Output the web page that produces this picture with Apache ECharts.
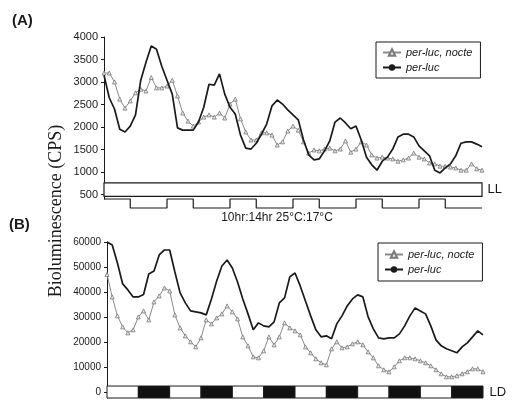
<!DOCTYPE html>
<html><head><meta charset="utf-8">
<script src="https://cdn.jsdelivr.net/npm/echarts@6/dist/echarts.min.js"></script>
<style>html,body{margin:0;padding:0;background:#fff}#c{width:512px;height:401px}</style>
</head><body><div id="c"></div>
<script>
// sample times (hours)
const hours = [0,2,4,6,8,10,12,14,16,18,20,22,24,26,28,30,32,34,36,38,40,42,44,46,48,50,52,54,56,58,60,62,64,66,68,70,72,74,76,78,80,82,84,86,88,90,92,94,96,98,100,102,104,106,108,110,112,114,116,118,120,122,124,126,128,130,132,134,136,138,140,142,144];
// Panel A (LL, temperature cycle)
const aNocte = [3200,3200,3000,2620,2420,2580,2760,2840,2800,3100,2870,2870,2910,3040,2690,2310,2130,2020,2110,2220,2270,2220,2310,2200,2510,2620,2180,1890,1710,1710,1870,1870,1820,1600,1670,1910,2020,1930,1670,1420,1490,1470,1510,1530,1470,1510,1690,1440,1510,1670,1600,1380,1310,1330,1310,1290,1240,1270,1310,1420,1330,1290,1200,1180,1130,1130,1110,1090,1040,1040,1180,1070,1040];
const aPerLuc = [3150,2650,2400,1950,1890,2020,2270,3040,3440,3800,3730,3350,3040,2730,1980,1930,1930,1930,2110,2440,2950,2930,3180,2730,2440,2290,1820,1530,1510,1640,1840,2070,2470,2600,2510,2380,2270,2160,1710,1380,1270,1290,1470,1690,2110,2200,2090,1960,2020,1710,1330,1160,1040,1240,1330,1510,1780,1840,1840,1780,1580,1470,1360,1040,980,1090,1180,1360,1640,1670,1670,1620,1560];
// Panel B (LD)
const bNocte = [47000,38000,30400,26000,23600,24800,30000,32400,28800,36000,38400,41600,40400,30800,25600,22400,20000,18000,21600,28800,27200,29600,31200,34400,32000,29200,22000,18400,14000,13600,16400,22000,18800,22000,27600,25600,24400,22800,18000,15600,13200,11600,10800,17200,20000,17600,18000,19200,20000,18800,16000,13600,10400,8800,8000,10000,12400,13600,13600,13200,12400,11600,10400,8800,7200,6000,6000,6400,7200,8000,9200,9200,8000];
const bPerLuc = [60000,58800,51600,43200,40800,38000,38000,39000,47200,48400,54800,56800,56800,48000,39600,35600,32400,32000,31600,30800,37200,44400,50400,52800,49600,44000,37200,31200,24800,27600,26400,26000,28000,35600,37600,46000,47600,42400,36400,30400,24800,22000,22400,21200,27200,30400,34400,37200,38800,38000,30000,25200,21600,21200,21600,21600,23200,26400,30400,33600,32400,31200,26400,20800,18400,17200,16400,15600,18000,19600,22000,24400,22800];
// temperature cycle 10hr 25C : 14hr 17C
const tempHours = [0,10,24,34,48,58,72,82,96,106,120,130,144];
const tempLevels = [25,17,25,17,25,17,25,17,25,17,25,17,17];
// light regime bars
const llRange = [460,760];
const ldPhases = ['L','D','L','D','L','D','L','D','L','D','L','D'];
const ldPhaseHours = 12;
const ldRange = [-2500,2300];
// tick labels
const aTicks = [500,1000,1500,2000,2500,3000,3500,4000];
const bTicks = [0,10000,20000,30000,40000,50000,60000];
const nameNocte = 'per-luc, nocte';
const namePerLuc = 'per-luc';

const SANS = '"Liberation Sans", Arial, sans-serif';
const INK = '#1a1a1a';
const pairs = (arr) => hours.map((h, i) => [h, arr[i]]);
const plain = (v) => String(v);

function nocteSeries(xi, yi, data) {
  return {
    name: nameNocte, type: 'line', xAxisIndex: xi, yAxisIndex: yi, data: pairs(data),
    symbol: 'triangle', symbolSize: 4, showSymbol: true, z: 2,
    lineStyle: { color: '#8a8a8a', width: 1 },
    itemStyle: { color: '#e6e6e6', borderColor: '#7a7a7a', borderWidth: 0.8 },
    animation: false
  };
}
function perLucSeries(xi, yi, data, markArea) {
  return {
    name: namePerLuc, type: 'line', xAxisIndex: xi, yAxisIndex: yi, data: pairs(data),
    symbol: 'circle', symbolSize: 6, showSymbol: false, z: 3,
    lineStyle: { color: INK, width: 1.7 }, itemStyle: { color: INK },
    markArea: markArea, animation: false
  };
}

const llArea = {
  silent: true,
  itemStyle: { color: '#fff', borderColor: INK, borderWidth: 1.2 },
  data: [[
    { xAxis: 0, yAxis: llRange[0],
      label: { show: true, position: 'right', distance: 5, formatter: 'LL', color: INK, fontSize: 13, fontFamily: SANS } },
    { xAxis: 144, yAxis: llRange[1] }
  ]]
};
const ldArea = {
  silent: true,
  itemStyle: { borderColor: INK, borderWidth: 1 },
  data: ldPhases.map((p, i) => [
    { xAxis: i * ldPhaseHours, yAxis: ldRange[0],
      itemStyle: { color: p === 'L' ? '#fff' : '#111', borderColor: INK, borderWidth: 1 },
      label: i === ldPhases.length - 1
        ? { show: true, position: 'right', distance: 6, formatter: 'LD', color: INK, fontSize: 13, fontFamily: SANS }
        : { show: false } },
    { xAxis: (i + 1) * ldPhaseHours, yAxis: ldRange[1] }
  ])
};

function legendAt(left, top, pad) {
  return {
    data: [nameNocte, namePerLuc], orient: 'vertical', left: left, top: top,
    padding: pad, itemGap: 4, itemWidth: 18, itemHeight: 8,
    borderColor: INK, borderWidth: 1, backgroundColor: '#fff', selectedMode: false,
    textStyle: { fontStyle: 'italic', fontSize: 11, fontFamily: SANS, color: INK }
  };
}

const chart = echarts.init(document.getElementById('c'), null, { renderer: 'canvas' });
chart.setOption({
  backgroundColor: '#fff',
  animation: false,
  grid: [
    { left: 104, top: 37, width: 378, height: 162 },
    { left: 104, top: 199, width: 378, height: 9 },
    { left: 107, top: 242, width: 376, height: 156 }
  ],
  xAxis: [0, 1, 2].map(g => ({ type: 'value', gridIndex: g, min: 0, max: 144, show: false })),
  yAxis: [
    { type: 'value', gridIndex: 0, min: 400, max: 4000,
      axisLine: { show: true, lineStyle: { color: INK, width: 1 } },
      axisTick: { show: true, length: 3, customValues: aTicks, lineStyle: { color: INK } },
      axisLabel: { customValues: aTicks, formatter: plain, fontSize: 11, fontFamily: SANS, color: INK, margin: 6 },
      splitLine: { show: false } },
    { type: 'value', gridIndex: 1, min: 17, max: 25, show: false },
    { type: 'value', gridIndex: 2, min: -2500, max: 60000,
      axisLine: { show: true, lineStyle: { color: INK, width: 1 } },
      axisTick: { show: true, length: 3, customValues: bTicks, lineStyle: { color: INK } },
      axisLabel: { customValues: bTicks, formatter: plain, fontSize: 10, fontFamily: SANS, color: INK, margin: 6 },
      splitLine: { show: false } }
  ],
  legend: [ legendAt(376, 42, [5, 8, 5, 6]), legendAt(378, 243, [6, 8, 6, 6]) ],
  series: [
    nocteSeries(0, 0, aNocte),
    perLucSeries(0, 0, aPerLuc, llArea),
    { name: 'temperature', type: 'line', xAxisIndex: 1, yAxisIndex: 1, step: 'end', clip: false,
      data: tempHours.map((h, i) => [h, tempLevels[i]]), symbol: 'none',
      lineStyle: { color: INK, width: 1.2 }, animation: false },
    nocteSeries(2, 2, bNocte),
    perLucSeries(2, 2, bPerLuc, ldArea)
  ],
  graphic: [
    { type: 'text', left: 12, top: 13, style: { text: '(A)', font: 'bold 15px ' + SANS, fill: INK } },
    { type: 'text', left: 9, top: 217, style: { text: '(B)', font: 'bold 15px ' + SANS, fill: INK } },
    { type: 'text', x: 56, y: 211, rotation: Math.PI / 2,
      style: { text: 'Bioluminescence (CPS)', font: '18px "Liberation Serif", serif', fill: INK, align: 'center', verticalAlign: 'middle' } },
    { type: 'text', x: 277, y: 218,
      style: { text: '10hr:14hr 25\u00b0C:17\u00b0C', font: '12px ' + SANS, fill: INK, align: 'center', verticalAlign: 'middle' } }
  ]
});
</script></body></html>
